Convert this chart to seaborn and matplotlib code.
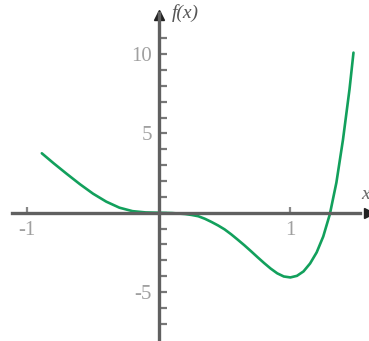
import numpy as np
import matplotlib
matplotlib.use("Agg")
import matplotlib.pyplot as plt
import seaborn as sns

# points
x_vals = [-0.89, -0.80, -0.70, -0.60, -0.50, -0.40, -0.30, -0.20, -0.10, 0.0,
          0.10, 0.20, 0.25, 0.30, 0.35, 0.40, 0.45, 0.50, 0.55, 0.60, 0.65,
          0.70, 0.75, 0.80, 0.85, 0.90, 0.95, 1.00, 1.05, 1.10, 1.15, 1.20,
          1.25, 1.30, 1.35, 1.40, 1.45, 1.48]
y_vals = [3.75, 3.12, 2.45, 1.80, 1.20, 0.70, 0.32, 0.10, 0.02, 0.0,
          -0.02, -0.08, -0.14, -0.22, -0.38, -0.58, -0.80, -1.05, -1.36, -1.70, -2.05,
          -2.42, -2.80, -3.17, -3.52, -3.82, -4.02, -4.08, -3.98, -3.70, -3.20, -2.50,
          -1.50, -0.10, 1.90, 4.60, 7.80, 10.10]

x_ticks = [-1, 1]
x_ticklabels = ["-1", "1"]
y_ticks = [-5, 5, 10]
y_ticklabels = ["-5", "5", "10"]
y_minor = list(range(-7, 12))

sns.set_style("white")
plt.rcParams['font.family'] = ['Liberation Serif', 'DejaVu Serif']

fig = plt.figure(figsize=(3.69, 3.41), dpi=100)
ax = fig.add_axes([0, 0, 1, 1])

sns.lineplot(x=x_vals, y=y_vals, sort=False, color="#12a05c", linewidth=1.9, ax=ax)

ax.set_xlim(-1.208, 1.598)
ax.set_ylim(-8.09, 13.42)

axis_col = "#606060"
for s in ["top", "right"]:
    ax.spines[s].set_visible(False)
ax.spines["left"].set_position(("data", 0))
ax.spines["bottom"].set_position(("data", 0))
ax.spines["left"].set_bounds(-8.1, 12.6)
ax.spines["bottom"].set_bounds(-1.115, 1.53)
for s in ["left", "bottom"]:
    ax.spines[s].set_linewidth(2.4)
    ax.spines[s].set_color(axis_col)

# arrow heads
ax.plot(1, 0, marker=">", color="#222222", markersize=7, clip_on=False,
        transform=ax.get_yaxis_transform())
ax.plot(0, 12.5, marker="^", color="#222222", markersize=7, clip_on=False,
        transform=ax.transData)

ax.set_xticks(x_ticks)
ax.set_xticklabels(x_ticklabels)
ax.set_yticks(y_ticks)
ax.set_yticklabels(y_ticklabels)
ax.set_yticks(y_minor, minor=True)

ax.tick_params(axis="y", which="both", direction="in", length=6, width=1.6,
               color="#777777", labelsize=15, labelcolor="#a0a0a0", pad=5,
               left=True)
ax.tick_params(axis="x", which="major", direction="in", length=4, width=1.6,
               color="#888888", labelsize=15, labelcolor="#a0a0a0", pad=6,
               bottom=True)

ax.text(0.1, 12.6, "f(x)", fontsize=14, style="italic", color="#555555",
        ha="left", va="center")
ax.text(1.54, 0.6, "x", fontsize=14, style="italic", color="#666666",
        ha="left", va="bottom")

fig.savefig("out.png", dpi=100)
